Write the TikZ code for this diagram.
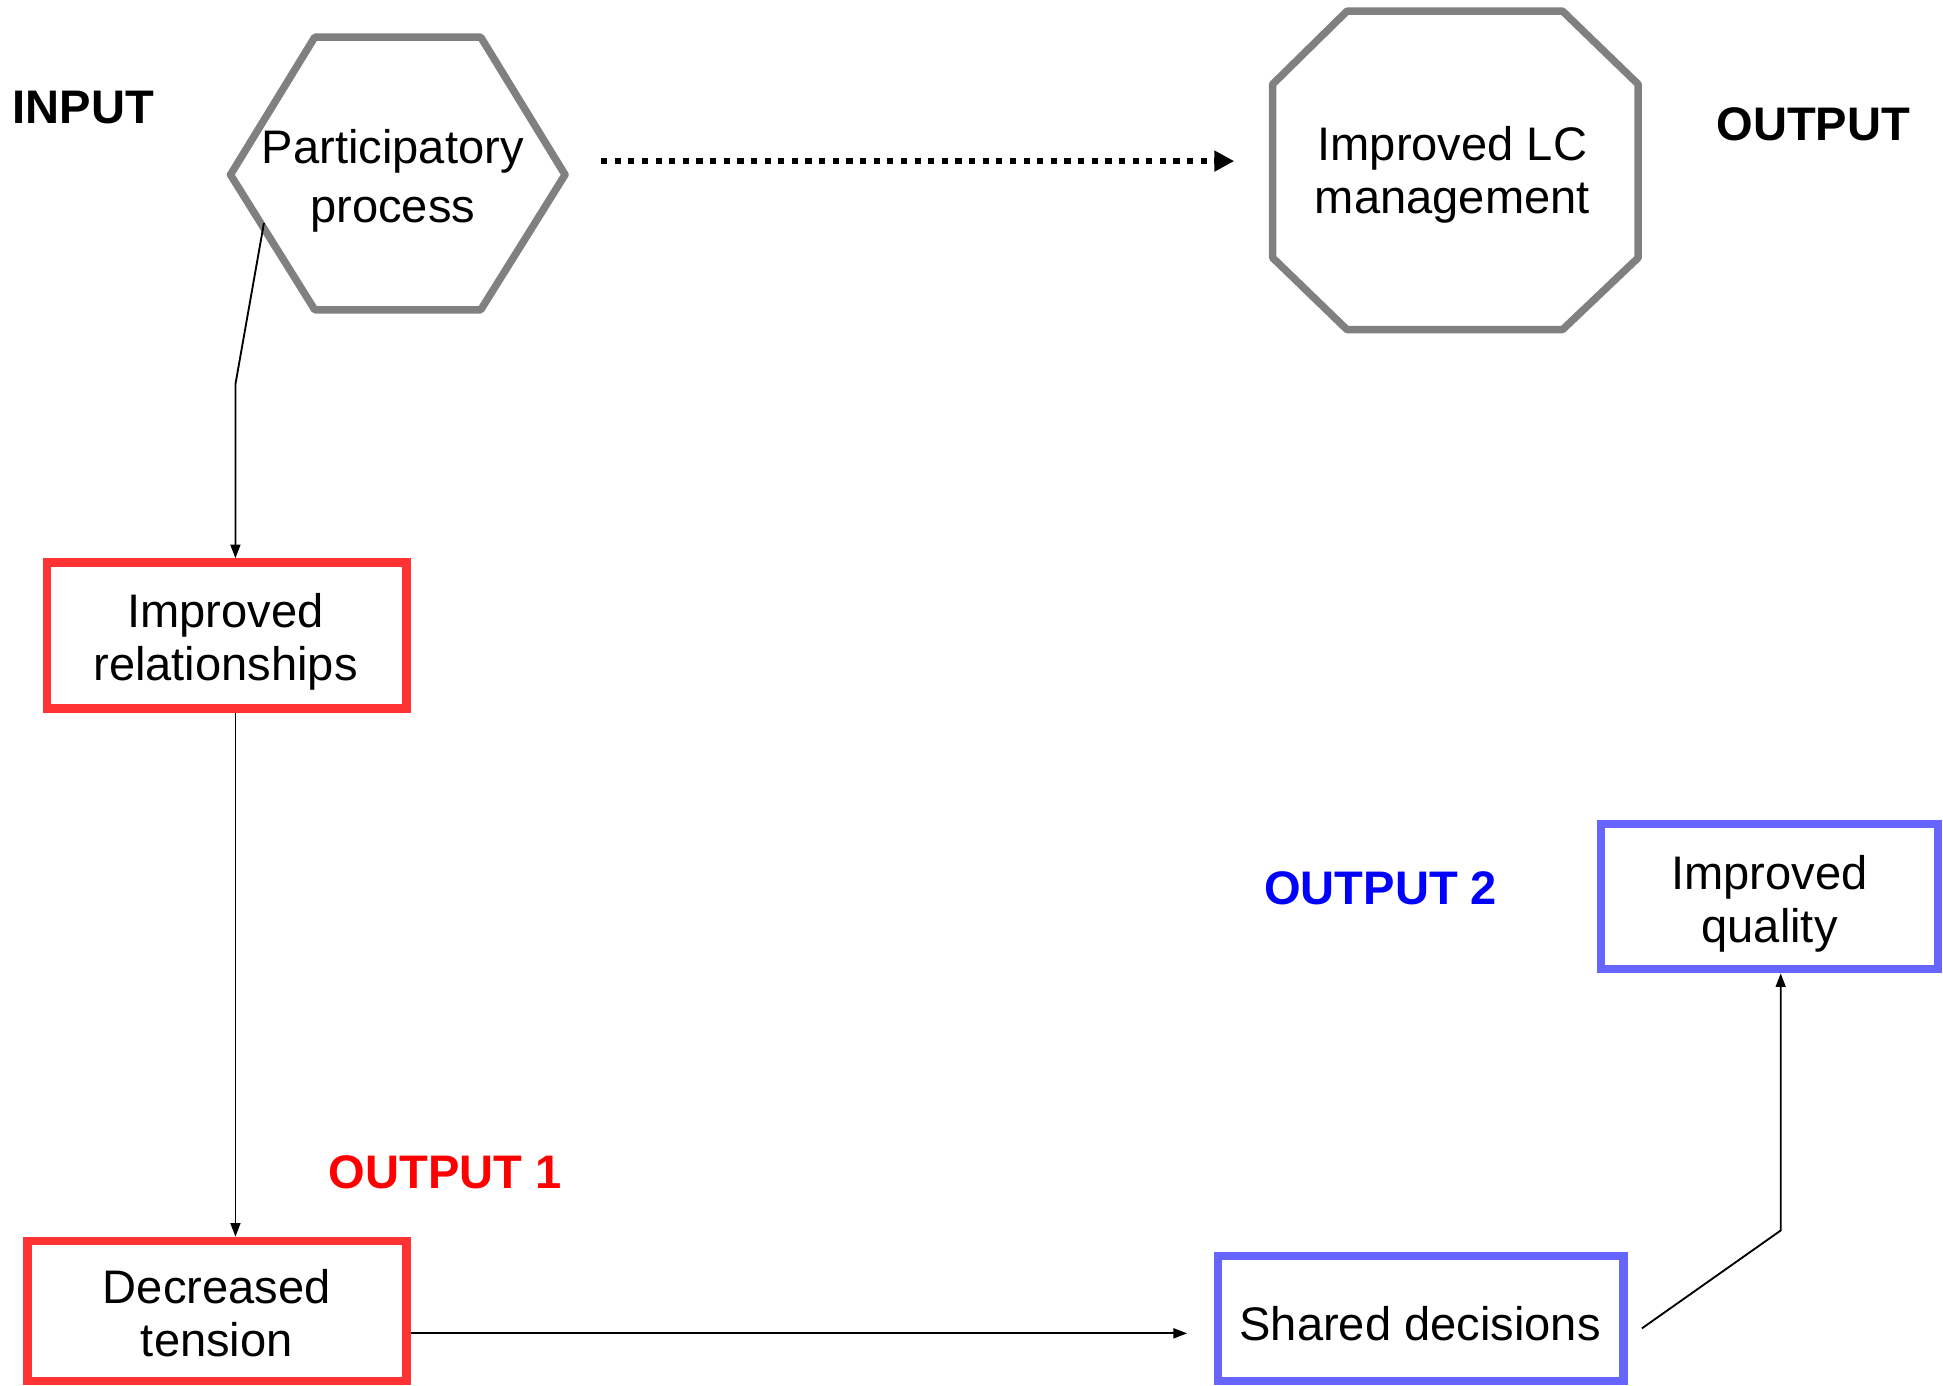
\documentclass[tikz,border=0pt]{standalone}
\usepackage{fontspec}
\setmainfont{Liberation Sans}
\usetikzlibrary{arrows.meta}
\definecolor{boxred}{HTML}{FF3333}
\definecolor{boxblue}{HTML}{6666FF}
\definecolor{shapegray}{HTML}{808080}
\definecolor{lblred}{HTML}{FF0000}
\definecolor{lblblue}{HTML}{0000FF}
\begin{document}
\begin{tikzpicture}[x=1pt,y=-1pt,
  txt/.style={font=\fontsize{38}{43}\selectfont, align=center, inner sep=0pt},
  lbl/.style={font=\fontsize{38}{43}\selectfont\bfseries, anchor=west, inner sep=0pt},
  polyshape/.style={draw=shapegray, line width=6pt, line join=round},
  redbox/.style={draw=boxred, line width=7pt, rectangle, inner sep=0pt},
  bluebox/.style={draw=boxblue, line width=7pt, rectangle, inner sep=0pt},
  conn/.style={line width=1.5pt, -{Triangle[length=11pt,width=8pt]}},
  dotarrow/.style={line width=5pt, dash pattern=on 5pt off 6pt, -{Triangle[length=16pt,width=16pt]}}
]
\useasboundingbox (0,0) rectangle (1568,1118);

% labels
\node[lbl] (input) at (10,87) {INPUT};
\node[lbl] (output) at (1385,100) {OUTPUT};
\node[lbl, text=lblblue] (out2) at (1020,717) {OUTPUT 2};
\node[lbl, text=lblred] (out1) at (265,946) {OUTPUT 1};

% hexagon
\draw[polyshape] (186,141) -- (254,30) -- (388,30) -- (456,141) -- (388,250) -- (254,250) -- cycle;
\node[txt] (pp) at (317,146) {Participatory\\[4pt]process};

% octagon
\draw[polyshape] (1087,9) -- (1261,9) -- (1322,68) -- (1322,208) -- (1261,266) -- (1087,266) -- (1027,208) -- (1027,68) -- cycle;
\node[txt] (lc) at (1172,141) {Improved LC\\management};

% boxes
\node[redbox, minimum width=290pt, minimum height=118pt] (rel) at (183,513) {};
\node[txt] (reltxt) at (182,518) {Improved\\relationships};
\node[redbox, minimum width=306pt, minimum height=113pt] (dec) at (175,1058) {};
\node[txt] (dectxt) at (175,1060) {Decreased\\tension};
\node[bluebox, minimum width=327pt, minimum height=101pt] (shd) at (1146.5,1064) {};
\node[txt] (shdtxt) at (1146,1068) {Shared decisions};
\node[bluebox, minimum width=272pt, minimum height=117pt] (qual) at (1428,723.5) {};
\node[txt] (qualtxt) at (1428,729.5) {Improved\\quality};

% coordinates
\coordinate (hA) at (213,180);
\coordinate (k1) at (190,310);
\coordinate (k2) at (958,1076);
\coordinate (k3) at (1325,1072);
\coordinate (k4) at (1437,993);
\coordinate (d1) at (485,130);
\coordinate (d2) at (996,130);

% connectors
\draw[dotarrow] (d1) -- (d2);
\draw[conn] (hA) -- (k1) -- (k1 |- rel.north);
\draw[conn] (k1 |- rel.south) -- (k1 |- dec.north);
\draw[conn] (dec.east |- k2) -- (k2);
\draw[conn] (k3) -- (k4) -- (k4 |- qual.south);
\end{tikzpicture}
\end{document}
